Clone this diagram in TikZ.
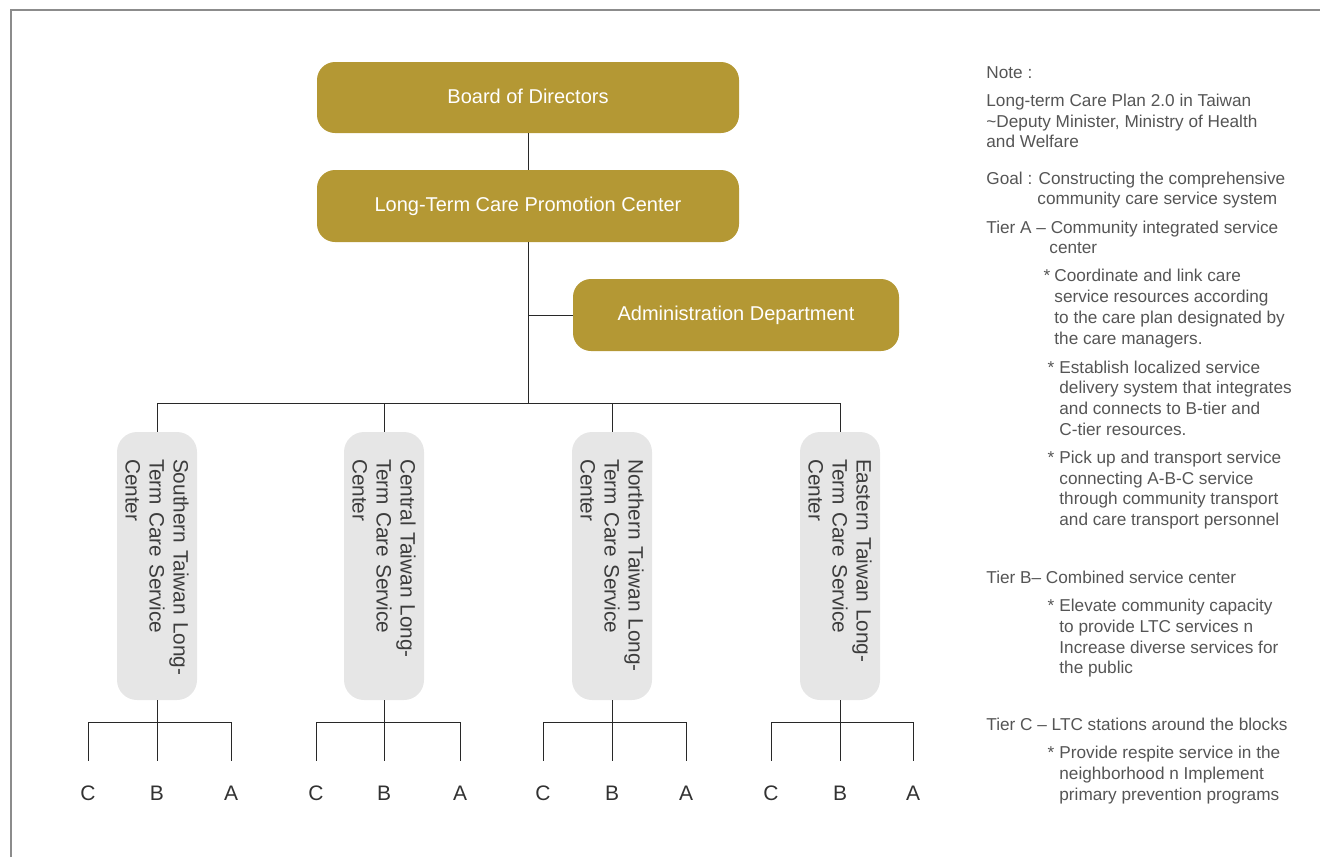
\documentclass[tikz,border=0pt]{standalone}
\usepackage{fontspec}
\setmainfont{Liberation Sans}
\definecolor{gold}{RGB}{180,152,52}
\definecolor{boxgray}{RGB}{230,230,230}
\definecolor{notegray}{RGB}{85,85,85}
\definecolor{textdark}{RGB}{60,60,60}
\definecolor{lettercol}{RGB}{50,50,50}
\definecolor{bordergray}{RGB}{140,140,140}
\definecolor{linecol}{RGB}{40,40,40}
\begin{document}
\begin{tikzpicture}[x=0.5pt,y=-0.5pt,
  goldbox/.style={fill=gold, rounded corners=9pt, inner sep=0pt, text=white,
    font=\fontsize{10}{12}\selectfont},
  vbox/.style={fill=boxgray, rounded corners=10pt, inner sep=0pt, rotate=-90,
    minimum width=134pt, minimum height=40pt, text width=107pt, align=left,
    text=textdark, font=\fontsize{10.4}{12}\selectfont},
  letter/.style={inner sep=0pt, minimum height=32pt, text=lettercol,
    font=\fontsize{10.5}{12}\selectfont},
  notetxt/.style={anchor=base west, inner sep=0pt, text=notegray,
    font=\fontsize{8.6}{10.3}\selectfont},
  conn/.style={draw=linecol, line width=0.5pt}
]
\useasboundingbox (0,0) rectangle (1320,857);
\draw[bordergray, line width=0.75pt] (11,857) -- (11,10) -- (1320,10);

% top boxes
\node[goldbox, minimum width=211pt, minimum height=35.5pt] (b) at (528,97.5) {\raisebox{1.5pt}{Board of Directors}};
\node[goldbox, minimum width=211pt, minimum height=36pt] (p) at (528,206) {\raisebox{1.5pt}{Long-Term Care Promotion Center}};
\node[goldbox, minimum width=163pt, minimum height=36pt] (ad) at (736,315) {\raisebox{1.5pt}{Administration Department}};

% regional centers
\node[vbox] (s) at (157,566) {\mbox{Southern Taiwan Long-}\\\mbox{Term Care Service}\\Center};
\node[vbox] (c) at (384,566) {\mbox{Central Taiwan Long-}\\\mbox{Term Care Service}\\Center};
\node[vbox] (n) at (612,566) {\mbox{Northern Taiwan Long-}\\\mbox{Term Care Service}\\Center};
\node[vbox] (e) at (840,566) {\mbox{Eastern Taiwan Long-}\\\mbox{Term Care Service}\\Center};

\coordinate (hub) at (528,403);
\draw[conn] (b.south) -- (p.north);
\draw[conn] (p.south) -- (hub);
\draw[conn] (p.south |- ad.west) -- (ad.west);
\draw[conn] (s.west |- hub) -- (e.west |- hub);
\foreach \k in {s,c,n,e} { \draw[conn] (\k.west |- hub) -- (\k.west); }

% letters
\node[letter] (c1) at (88,793) {C};
\node[letter] (b1) at (157,793) {B};
\node[letter] (a1) at (231,793) {A};
\node[letter] (c2) at (316,793) {C};
\node[letter] (b2) at (384,793) {B};
\node[letter] (a2) at (460,793) {A};
\node[letter] (c3) at (543,793) {C};
\node[letter] (b3) at (612,793) {B};
\node[letter] (a3) at (686,793) {A};
\node[letter] (c4) at (771,793) {C};
\node[letter] (b4) at (840,793) {B};
\node[letter] (a4) at (913,793) {A};

\coordinate (lb) at (0,722);
\draw[conn] (s.east) -- (b1.north);
\draw[conn] (c.east) -- (b2.north);
\draw[conn] (n.east) -- (b3.north);
\draw[conn] (e.east) -- (b4.north);
\foreach \i in {1,2,3,4} {
  \draw[conn] (c\i.north) -- (c\i.north |- lb) -- (a\i.north |- lb) -- (a\i.north);
}

% notes
\node[notetxt] (t1) at (986,78) {Note :};
\node[notetxt] (t2) at (986,106) {Long-term Care Plan 2.0 in Taiwan};
\node[notetxt] (t3) at (986,127) {\textasciitilde Deputy Minister, Ministry of Health};
\node[notetxt] (t4) at (986,147) {and Welfare};
\node[notetxt] (t5) at (986,184) {Goal : Constructing the comprehensive};
\node[notetxt] (t6) at (1037,204) {community care service system};
\node[notetxt] (t7) at (986,233) {Tier A – Community integrated service};
\node[notetxt] (t8) at (1049,253) {center};
\node[notetxt] (t9) at (1054,281) {\llap{*\hspace{2pt}}Coordinate and link care};
\node[notetxt] (t10) at (1054,302) {service resources according};
\node[notetxt] (t11) at (1054,323) {to the care plan designated by};
\node[notetxt] (t12) at (1054,344) {the care managers.};
\node[notetxt] (t13) at (1059,373) {\llap{*\hspace{2.5pt}}Establish localized service};
\node[notetxt] (t14) at (1059,393) {delivery system that integrates};
\node[notetxt] (t15) at (1059,414) {and connects to B-tier and};
\node[notetxt] (t16) at (1059,435) {C-tier resources.};
\node[notetxt] (t17) at (1059,463) {\llap{*\hspace{2.5pt}}Pick up and transport service};
\node[notetxt] (t18) at (1059,484) {connecting A-B-C service};
\node[notetxt] (t19) at (1059,504) {through community transport};
\node[notetxt] (t20) at (1059,525) {and care transport personnel};
\node[notetxt] (t21) at (986,583) {Tier B– Combined service center};
\node[notetxt] (t22) at (1059,611) {\llap{*\hspace{2.5pt}}Elevate community capacity};
\node[notetxt] (t23) at (1059,632) {to provide LTC services n};
\node[notetxt] (t24) at (1059,653) {Increase diverse services for};
\node[notetxt] (t25) at (1059,673) {the public};
\node[notetxt] (t26) at (986,730) {Tier C – LTC stations around the blocks};
\node[notetxt] (t27) at (1059,758) {\llap{*\hspace{2.5pt}}Provide respite service in the};
\node[notetxt] (t28) at (1059,779) {neighborhood n Implement};
\node[notetxt] (t29) at (1059,800) {primary prevention programs};
\end{tikzpicture}
\end{document}
